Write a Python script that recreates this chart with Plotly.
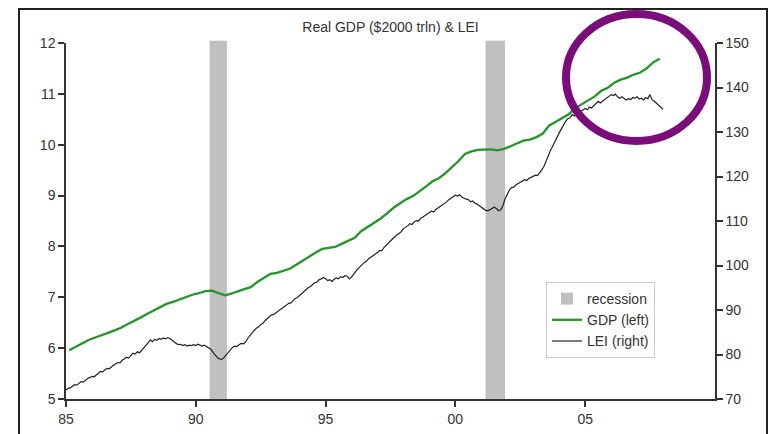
import pandas as pd
import plotly.graph_objects as go

# Real GDP, $2000 trillion, quarterly 1985Q1 - 2007Q4
gdp = [
    5.96, 6.03, 6.10, 6.16,
    6.21, 6.25, 6.30, 6.35,
    6.40, 6.47, 6.53, 6.60,
    6.67, 6.74, 6.81, 6.87,
    6.91, 6.96, 7.01, 7.05,
    7.08, 7.12, 7.13, 7.09,
    7.04, 7.07, 7.12, 7.16,
    7.20, 7.30, 7.38, 7.46,
    7.48, 7.52, 7.56, 7.64,
    7.72, 7.81, 7.88, 7.95,
    7.97, 7.99, 8.05, 8.11,
    8.17, 8.30, 8.38, 8.46,
    8.55, 8.65, 8.76, 8.85,
    8.93, 8.99, 9.08, 9.18,
    9.28, 9.34, 9.44, 9.56,
    9.68, 9.82, 9.87, 9.90,
    9.90, 9.91, 9.89, 9.92,
    9.97, 10.02, 10.08, 10.10,
    10.15, 10.22, 10.38, 10.45,
    10.53, 10.60, 10.72, 10.80,
    10.88, 10.95, 11.06, 11.12,
    11.22, 11.28, 11.32, 11.38,
    11.42, 11.50, 11.62, 11.69,
]

# Leading economic index, monthly Jan 1985 - Jan 2008
lei = [
    72.0, 72.4, 72.5, 72.9, 73.2, 73.1, 73.6, 73.9, 73.8, 74.3, 74.6, 74.8,
    75.1, 75.0, 75.5, 75.8, 76.2, 76.1, 76.5, 76.9, 76.8, 77.3, 77.6, 77.9,
    78.2, 78.1, 78.7, 79.0, 79.4, 79.2, 79.8, 80.3, 80.1, 80.6, 80.4, 80.9,
    81.4, 82.0, 82.6, 83.3, 82.9, 83.4, 83.2, 83.6, 83.4, 83.7, 83.5, 83.8,
    83.6, 83.2, 82.8, 82.5, 82.2, 82.3, 82.0, 82.2, 81.9, 82.1, 82.0, 82.2,
    82.0, 82.3, 82.1, 81.9, 82.1, 81.8, 81.6, 81.2, 80.5, 79.8, 79.3, 79.0,
    78.9, 79.3, 79.8, 80.5, 81.1, 81.6, 81.9, 81.8, 82.2, 82.5, 82.4, 82.8,
    83.6, 84.3, 84.9, 85.4, 85.9, 86.2, 86.7, 87.0, 87.6, 88.1, 88.5, 88.9,
    89.0, 89.4, 89.6, 90.0, 90.4, 90.8, 91.1, 91.5, 91.6, 92.1, 92.6, 92.8,
    93.3, 93.8, 94.1, 94.6, 95.0, 95.3, 95.7, 96.1, 96.3, 96.8, 97.0, 97.3,
    97.0, 96.6, 96.8, 96.4, 96.9, 97.2, 97.0, 97.5, 97.3, 97.7, 97.6, 97.0,
    97.4, 98.2, 98.7, 99.3, 99.8, 100.4, 100.7, 101.0, 101.6, 101.9, 102.2, 102.6,
    102.9, 103.4, 103.3, 104.0, 104.6, 105.0, 105.5, 106.0, 106.4, 106.9, 107.2, 107.6,
    108.3, 108.6, 108.9, 109.4, 109.2, 109.8, 110.1, 110.0, 110.6, 110.9, 111.3, 111.5,
    111.9, 112.2, 112.0, 112.6, 112.9, 113.3, 113.6, 113.9, 114.3, 114.8, 115.2, 115.5,
    115.8, 115.6, 115.9, 115.4, 115.1, 114.9, 114.8, 114.3, 114.5, 114.0, 113.8, 113.4,
    113.0, 112.6, 112.4, 112.3, 112.6, 112.9, 113.1, 112.8, 112.3, 112.5, 113.5, 115.0,
    116.2, 117.0, 117.5, 117.6, 118.1, 118.4, 118.7, 118.9, 119.3, 119.1, 119.6, 119.8,
    120.0, 120.3, 120.2, 120.8, 121.5, 122.3, 123.6, 124.8, 125.9, 126.8, 127.9, 128.7,
    129.8, 130.7, 131.6, 132.4, 133.0, 133.2, 133.9, 133.6, 134.4, 134.8, 134.6, 135.0,
    135.3, 135.0, 135.6, 135.4, 135.9, 136.4, 136.9, 136.5, 136.9, 137.4, 137.8, 138.1,
    138.4, 138.2, 138.5, 137.9, 137.6, 137.9, 137.5, 137.2, 137.5, 137.3, 137.7, 137.6,
    137.9, 137.4, 137.6, 137.2, 137.7, 137.5, 138.4, 137.2, 136.9, 136.4, 135.9, 135.6,
    135.1,
]

# NBER recessions
recession_start = ["1990-07-15", "2001-03-01"]
recession_end = ["1991-03-15", "2001-11-30"]

# x-axis ticks
tick_years = ["1985-01-01", "1990-01-01", "1995-01-01", "2000-01-01", "2005-01-01"]
tick_labels = ["85", "90", "95", "00", "05"]

gdp_dates = pd.date_range("1985-02-01", periods=len(gdp), freq="3MS") + pd.Timedelta(days=14)
lei_dates = pd.date_range("1985-01-01", periods=len(lei), freq="MS")

# plot area in pixels (769x434 canvas)
W, H = 769, 434
L, R, T, B = 66, 54, 43, 35
PW, PH = W - L - R, H - T - B


def px_x(x):
    return (x - L) / PW


def px_y(y):
    return (H - B - y) / PH


fig = go.Figure()

fig.add_trace(go.Scatter(
    x=gdp_dates, y=gdp, name="GDP (left)", mode="lines",
    line=dict(color="#23962a", width=2.3), legendrank=2,
))
fig.add_trace(go.Scatter(
    x=lei_dates, y=lei, name="LEI (right)", mode="lines", yaxis="y2",
    line=dict(color="#222222", width=1.2), legendrank=3,
))

for i, (s, e) in enumerate(zip(recession_start, recession_end)):
    fig.add_shape(
        type="rect", xref="x", yref="paper", x0=s, x1=e, y0=0, y1=1.006,
        fillcolor="#c0c0c0", line=dict(width=0), layer="below",
        name="recession", showlegend=(i == 0), legendgroup="rec", legendrank=1,
    )

# outer frame
fig.add_shape(
    type="rect", xref="paper", yref="paper",
    x0=px_x(19), x1=px_x(767), y0=px_y(445), y1=px_y(9),
    line=dict(color="#222222", width=2), fillcolor="rgba(0,0,0,0)",
)
# highlight ring
fig.add_shape(
    type="circle", xref="paper", yref="paper",
    x0=px_x(566), x1=px_x(707), y0=px_y(141), y1=px_y(14),
    line=dict(color="#7b0d7b", width=8), fillcolor="rgba(0,0,0,0)",
)

axis_style = dict(
    showgrid=False, zeroline=False, showline=True, linecolor="#333333", linewidth=1.5,
    ticks="outside", ticklen=6, tickcolor="#333333", tickwidth=1.5, automargin=False,
    tickfont=dict(family="Liberation Sans, Arial", size=14, color="#333333"),
)

fig.update_layout(
    width=W, height=H,
    margin=dict(l=L, r=R, t=T, b=B, autoexpand=False),
    paper_bgcolor="white", plot_bgcolor="white",
    font=dict(family="Liberation Sans, Arial", size=14, color="#333333"),
    title=dict(
        text="Real GDP ($2000 trln) & LEI", x=0.5, xref="paper",
        y=1 - 27 / H, yref="container", yanchor="middle",
        font=dict(size=14, color="#333333"), automargin=False,
    ),
    xaxis=dict(
        type="date", range=["1985-01-01", "2010-01-01"],
        tickvals=tick_years, ticktext=tick_labels, **axis_style,
    ),
    yaxis=dict(range=[5, 12], dtick=1, **axis_style),
    yaxis2=dict(range=[70, 150], dtick=10, overlaying="y", side="right", **axis_style),
    showlegend=True,
    legend=dict(
        x=px_x(546), y=px_y(282), xanchor="left", yanchor="top",
        bgcolor="white", bordercolor="#cccccc", borderwidth=1,
        font=dict(size=14, color="#333333"), itemwidth=30,
        tracegroupgap=0,
    ),
)

# drop the browser's default 8px body margin so the figure sits at (0, 0)
fig.write_html(
    "out.html",
    config={"displayModeBar": False},
    post_script="document.body.style.margin='0';document.body.style.overflow='hidden';",
)
